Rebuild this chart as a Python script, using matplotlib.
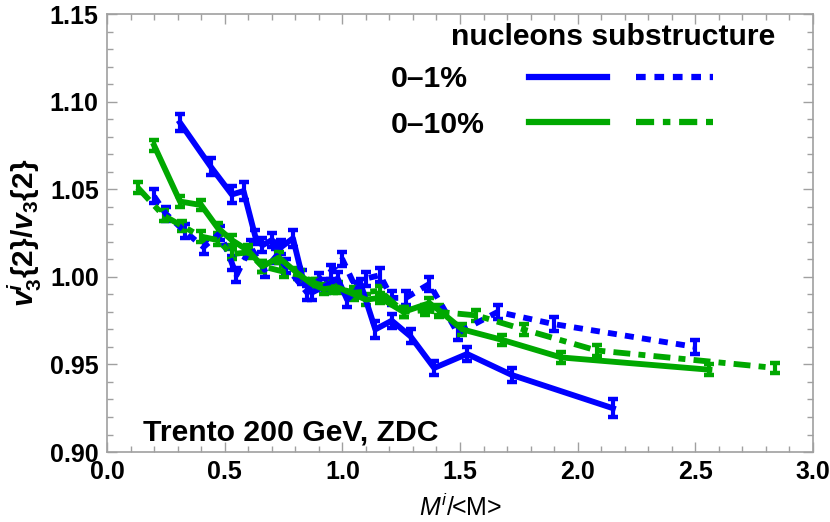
import matplotlib
matplotlib.use("Agg")
import matplotlib.pyplot as plt
from matplotlib.lines import Line2D
from matplotlib.ticker import MultipleLocator

# 0-1%, nucleons (solid blue)
b_nuc_x = [0.31, 0.44, 0.53, 0.58, 0.63, 0.66, 0.70, 0.74, 0.79, 0.83, 0.87, 0.93,
           0.98, 1.02, 1.08, 1.14, 1.21, 1.29, 1.39, 1.53, 1.72, 2.15]
b_nuc_y = [1.088, 1.063, 1.047, 1.049, 1.023, 1.018, 1.021, 1.017, 1.022, 1.000, 0.991, 0.995,
           0.999, 0.987, 0.995, 0.970, 0.975, 0.966, 0.948, 0.956, 0.944, 0.925]
b_nuc_err = [0.005, 0.005, 0.005, 0.005, 0.004, 0.004, 0.004, 0.004, 0.005, 0.004, 0.004, 0.004,
             0.004, 0.004, 0.004, 0.005, 0.004, 0.004, 0.004, 0.004, 0.004, 0.005]

# 0-1%, substructure (dotted blue)
b_sub_x = [0.20, 0.25, 0.33, 0.41, 0.48, 0.53, 0.55, 0.61, 0.67, 0.72, 0.76, 0.85, 0.90,
           0.95, 1.00, 1.06, 1.10, 1.16, 1.21, 1.27, 1.37, 1.49, 1.66, 1.90, 2.50]
b_sub_y = [1.046, 1.036, 1.026, 1.017, 1.025, 1.008, 1.001, 1.017, 1.004, 1.012, 1.006, 0.991, 0.998,
           1.003, 1.010, 0.993, 0.999, 1.001, 0.988, 0.988, 0.996, 0.968, 0.980, 0.973, 0.960]
b_sub_err = [0.004] * len(b_sub_x)

# 0-10%, nucleons (solid green)
g_nuc_x = [0.20, 0.31, 0.40, 0.47, 0.53, 0.60, 0.66, 0.73, 0.81, 0.87, 0.92, 0.98, 1.05,
           1.10, 1.16, 1.26, 1.37, 1.41, 1.51, 1.68, 1.93, 2.56]
g_nuc_y = [1.075, 1.043, 1.041, 1.028, 1.021, 1.015, 1.006, 1.011, 1.002, 0.996, 0.993, 0.994, 0.990,
           0.987, 0.988, 0.980, 0.985, 0.981, 0.970, 0.964, 0.954, 0.947]
g_nuc_err = [0.003] * len(g_nuc_x)

# 0-10%, substructure (dash-dot green)
g_sub_x = [0.13, 0.24, 0.32, 0.40, 0.47, 0.53, 0.60, 0.66, 0.75, 0.82, 0.89, 0.96, 1.05,
           1.16, 1.26, 1.35, 1.41, 1.57, 1.77, 2.08, 2.84]
g_sub_y = [1.051, 1.035, 1.029, 1.023, 1.021, 1.013, 1.014, 1.006, 1.003, 1.001, 0.996, 0.994, 0.991,
           0.992, 0.980, 0.981, 0.980, 0.978, 0.970, 0.958, 0.948]
g_sub_err = [0.003] * len(g_sub_x)

BLUE = "#0000ff"
GREEN = "#00a800"
LW = 4.2
DOT = (1.55, 1.4)
DASHDOT = (2.9, 1.4, 1.2, 1.4)
FS = 21.7

plt.rcParams["font.family"] = ["Liberation Sans", "DejaVu Sans"]
plt.rcParams["mathtext.fontset"] = "custom"
plt.rcParams["mathtext.rm"] = "Liberation Sans"
plt.rcParams["mathtext.it"] = "Liberation Sans:italic"
plt.rcParams["mathtext.bf"] = "Liberation Sans:bold"
plt.rcParams["mathtext.bfit"] = "Liberation Sans:italic:bold"

fig = plt.figure(figsize=(8.3, 5.22), dpi=100)
ax = fig.add_axes([0.129, 0.134, 0.8505, 0.839])

eb = dict(elinewidth=3, capsize=3.7, capthick=3.2)
ax.errorbar(b_nuc_x, b_nuc_y, yerr=b_nuc_err, color=BLUE, lw=LW, **eb)
ax.errorbar(b_sub_x, b_sub_y, yerr=b_sub_err, color=BLUE, lw=LW, dashes=DOT, **eb)
ax.errorbar(g_nuc_x, g_nuc_y, yerr=g_nuc_err, color=GREEN, lw=LW, **eb)
ax.errorbar(g_sub_x, g_sub_y, yerr=g_sub_err, color=GREEN, lw=LW, dashes=DASHDOT, **eb)

ax.set_xlim(0, 3.0)
ax.set_ylim(0.9, 1.15)
ax.xaxis.set_major_locator(MultipleLocator(0.5))
ax.xaxis.set_minor_locator(MultipleLocator(0.1))
ax.yaxis.set_major_locator(MultipleLocator(0.05))
ax.yaxis.set_minor_locator(MultipleLocator(0.01))
ax.xaxis.set_major_formatter(lambda v, p: f"{v:.1f}")
ax.yaxis.set_major_formatter(lambda v, p: f"{v:.2f}")

for s in ax.spines.values():
    s.set_color("#a0a0a0")
    s.set_linewidth(1.2)
ax.tick_params(which="both", direction="in", top=True, right=True, color="#a0a0a0", width=1)
ax.tick_params(which="major", length=7, labelsize=18, pad=6)
ax.tick_params(which="minor", length=4)
for lab in ax.get_xticklabels() + ax.get_yticklabels():
    lab.set_fontweight("bold")

ax.set_ylabel(r"$\mathbfit{v}_{\mathbf{3}}^{\mathbfit{i}}\mathbf{\{2\}/}\mathbfit{v}_{\mathbf{3}}\mathbf{\{2\}}$",
              fontsize=21.5, labelpad=4)
ax.set_xlabel(r"$M^i$/<M>", fontsize=18, labelpad=7)

ax.text(0.946, 0.929, "nucleons substructure", transform=ax.transAxes,
        ha="right", va="baseline", fontsize=FS, fontweight="bold")
ax.text(0.051, 0.027, "Trento 200 GeV, ZDC", transform=ax.transAxes,
        ha="left", va="baseline", fontsize=FS, fontweight="bold")

blank = Line2D([], [], linestyle="none")
h_b = Line2D([], [], color=BLUE, lw=LW + 0.3)
h_bd = Line2D([], [], color=BLUE, lw=LW + 0.3, dashes=DOT)
h_g = Line2D([], [], color=GREEN, lw=LW + 0.3)
h_gd = Line2D([], [], color=GREEN, lw=LW + 0.3, dashes=DASHDOT)
leg = ax.legend([blank, blank, h_b, h_g, h_bd, h_gd],
                ["0\u20131%", "0\u201310%", "", "", "", ""],
                ncol=3, loc="upper left", bbox_to_anchor=(0.3145, 0.8836),
                frameon=False, borderpad=0, borderaxespad=0,
                handlelength=2.56, handletextpad=-0.53, columnspacing=1.5,
                labelspacing=0.58, prop={"size": FS, "weight": "bold"})

fig.savefig("out.png", dpi=100)
